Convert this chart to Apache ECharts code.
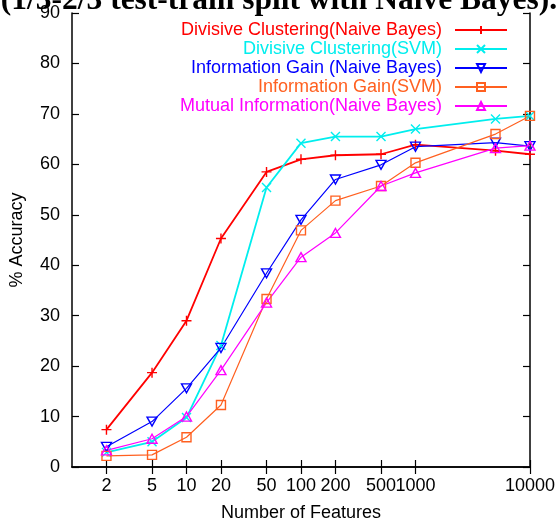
<!DOCTYPE html>
<html>
<head>
<meta charset="utf-8">
<script src="https://cdn.jsdelivr.net/npm/echarts@6/dist/echarts.min.js"></script>
<style>
html,body{margin:0;padding:0;background:#fff;}
#main{width:558px;height:527px;}
</style>
</head>
<body>
<div id="main"></div>
<script>
var features = [2, 5, 10, 20, 50, 100, 200, 500, 1000, 5000, 10000];
var divisiveNB  = [7.4, 18.7, 29.0, 45.3, 58.5, 61.0, 61.8, 62.0, 63.9, 62.7, 62.0];
var divisiveSVM = [2.9, 5.0, 9.8, 24.1, 55.4, 64.2, 65.5, 65.5, 67.0, 69.0, 69.6];
var infoGainNB  = [4.0, 9.0, 15.6, 23.6, 38.4, 49.0, 57.0, 59.9, 63.5, 64.3, 63.6];
var infoGainSVM = [2.2, 2.4, 5.9, 12.3, 33.3, 46.9, 52.8, 55.7, 60.3, 66.0, 69.6];
var mutualNB    = [3.3, 5.6, 10.0, 19.2, 32.6, 41.6, 46.4, 55.7, 58.3, 63.2, 63.7];
var xTickValues = [2, 5, 10, 20, 50, 100, 200, 500, 1000, 10000];
var seriesNames = [
  'Divisive Clustering(Naive Bayes)',
  'Divisive Clustering(SVM)',
  'Information Gain (Naive Bayes)',
  'Information Gain(SVM)',
  'Mutual Information(Naive Bayes)'
];
var titleText = '(1/3-2/3 test-train split with Naive Bayes).';

var colors = ['#ff0000', '#00eeee', '#0000ff', '#ff6020', '#ff00ff'];
var symbols = [
  'path://M0,5L10,5M5,0L5,10',
  'path://M0,0L10,10M10,0L0,10',
  'path://M0,0L10,0L5,8.66Z',
  'path://M0,0L10,0L10,10L0,10Z',
  'path://M5,0L10,8.66L0,8.66Z'
];
var symSizes = [[10,10],[9,9],[10,9],[9,9],[10,9]];
var widths = [1.8, 1.8, 1.2, 1.2, 1.2];
var allValues = [divisiveNB, divisiveSVM, infoGainNB, infoGainSVM, mutualNB];

var FONT = 'Liberation Sans';
var chart = echarts.init(document.getElementById('main'), null, {renderer: 'canvas'});

var series = allValues.map(function (vals, i) {
  return {
    name: seriesNames[i],
    type: 'line',
    xAxisIndex: 0,
    yAxisIndex: 0,
    data: features.map(function (f, k) { return [f, vals[k]]; }),
    symbol: symbols[i],
    symbolSize: symSizes[i],
    showSymbol: true,
    lineStyle: {color: colors[i], width: widths[i]},
    itemStyle: {color: 'none', borderColor: colors[i], borderWidth: 1.4},
    emphasis: {disabled: true},
    animation: false
  };
});

var axisCommonX = {
  type: 'log',
  logBase: 10,
  min: 1,
  max: 10000,
  axisLine: {show: true, lineStyle: {color: '#000', width: 1.5}},
  splitLine: {show: false},
  minorTick: {show: false},
  axisTick: {show: true, inside: true, length: 7, customValues: xTickValues, lineStyle: {color: '#000', width: 1.2}}
};

chart.setOption({
  animation: false,
  title: {
    text: titleText,
    left: 'center',
    top: -20,
    textStyle: {fontFamily: 'Liberation Serif', fontWeight: 'bold', fontSize: 31.5, color: '#000', lineHeight: 31}
  },
  grid: {left: 72, right: 26, top: 13, bottom: 56, containLabel: false},
  legend: {
    orient: 'vertical',
    right: 50,
    top: 21,
    padding: 0,
    align: 'right',
    itemWidth: 52,
    itemHeight: 10,
    itemGap: 1,
    selectedMode: false,
    data: seriesNames.map(function (n, i) {
      return {name: n, textStyle: {color: colors[i]}};
    }),
    textStyle: {fontFamily: FONT, fontSize: 18, lineHeight: 18, padding: [0, 8, 0, 0]}
  },
  xAxis: [
    Object.assign({}, axisCommonX, {
      position: 'bottom',
      name: 'Number of Features',
      nameLocation: 'middle',
      nameGap: 37,
      nameTextStyle: {fontFamily: FONT, fontSize: 18, color: '#000'},
      axisLabel: {show: true, customValues: xTickValues, margin: 10, fontFamily: FONT, fontSize: 18, color: '#000',
        formatter: function (v) { return String(Math.round(v)); }}
    }),
    Object.assign({}, axisCommonX, {
      position: 'top',
      axisLabel: {show: false}
    })
  ],
  yAxis: [
    {
      type: 'value',
      position: 'left',
      min: 0, max: 90, interval: 10,
      name: '% Accuracy',
      nameLocation: 'middle',
      nameGap: 46,
      nameTextStyle: {fontFamily: FONT, fontSize: 18, color: '#000'},
      axisLine: {show: true, lineStyle: {color: '#000', width: 1.5}},
      axisTick: {show: true, inside: true, length: 7, lineStyle: {color: '#000', width: 1.2}},
      axisLabel: {margin: 12, fontFamily: FONT, fontSize: 18, color: '#000'},
      splitLine: {show: false}
    },
    {
      type: 'value',
      position: 'right',
      min: 0, max: 90, interval: 10,
      axisLine: {show: true, lineStyle: {color: '#000', width: 1.5}},
      axisTick: {show: true, inside: true, length: 7, lineStyle: {color: '#000', width: 1.2}},
      axisLabel: {show: false},
      splitLine: {show: false}
    }
  ],
  series: series
});
</script>
</body>
</html>
